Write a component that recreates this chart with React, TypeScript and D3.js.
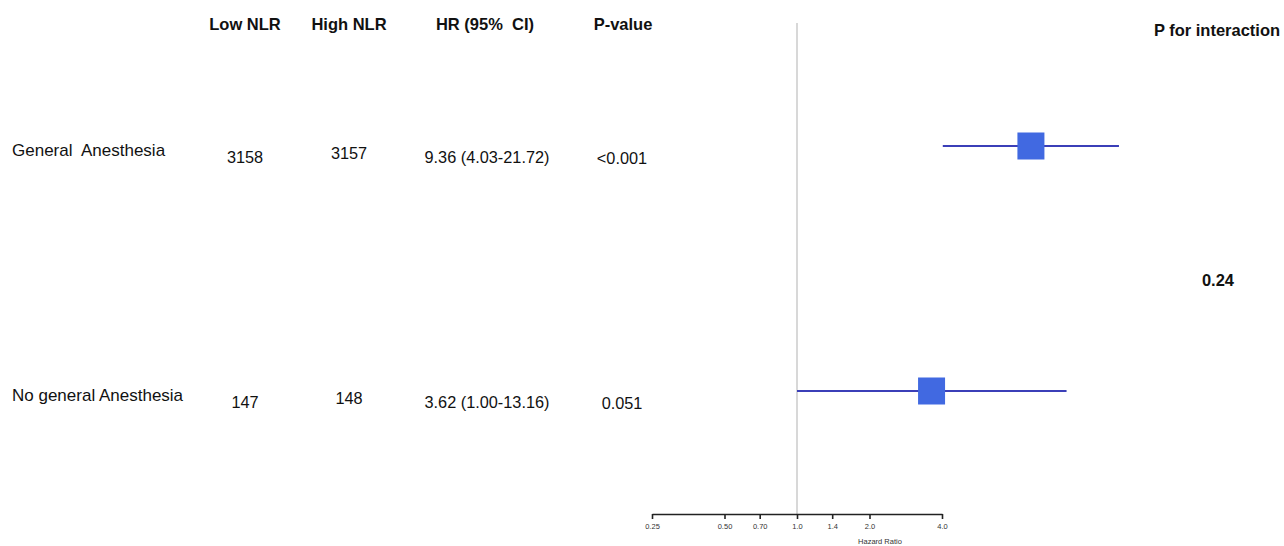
import React, { useEffect, useRef } from 'react';
import * as d3 from 'd3';

const subgroups = ['General  Anesthesia', 'No general Anesthesia'];
const lowNLR = ['3158', '147'];
const highNLR = ['3157', '148'];
const hrText = ['9.36 (4.03-21.72)', '3.62 (1.00-13.16)'];
const pValues = ['<0.001', '0.051'];
const hr = [9.36, 3.62];
const lower = [4.03, 1.0];
const upper = [21.72, 13.16];
const tickValues = [0.25, 0.5, 0.7, 1.0, 1.4, 2.0, 4.0];
const tickLabels = ['0.25', '0.50', '0.70', '1.0', '1.4', '2.0', '4.0'];
const headers = ['Low NLR', 'High NLR', 'HR (95%  CI)', 'P-value'];
const pInteraction = '0.24';

const W = 1284;
const H = 546;

export default function App() {
  const ref = useRef<SVGSVGElement>(null);

  useEffect(() => {
    const svg = d3.select(ref.current);
    svg.selectAll('*').remove();
    const font = 'Liberation Sans, Arial, sans-serif';

    // log scale, 1.0 at 797
    const x = d3.scaleLog().base(2).domain([0.25, 4]).range([652, 942]);
    const rowY = d3.scalePoint<number>().domain([0, 1]).range([146, 391]);

    const bold = (tx: number, ty: number, str: string) =>
      svg.append('text').attr('x', tx).attr('y', ty)
        .attr('text-anchor', 'middle').attr('font-family', font)
        .attr('font-weight', 'bold').attr('font-size', 16.5)
        .style('white-space', 'pre').attr('fill', '#111').text(str);

    // column headers
    const headX = [245, 349, 485, 623];
    headers.forEach((h, i) => bold(headX[i], 30, h));
    bold(1217, 36, 'P for interaction');
    bold(1218, 286, pInteraction);

    // reference line
    svg.append('line').attr('x1', x(1)).attr('x2', x(1))
      .attr('y1', 23).attr('y2', 514)
      .attr('stroke', '#d4d4d4').attr('stroke-width', 1.8);

    subgroups.forEach((s, i) => {
      const y = rowY(i)!;
      const t = (tx: number, ty: number, str: string, anchor = 'middle', fs = 16.3) =>
        svg.append('text').attr('x', tx).attr('y', ty)
          .attr('text-anchor', anchor).attr('font-family', font)
          .attr('font-size', fs).attr('fill', '#111')
          .style('white-space', 'pre').text(str);
      t(12, y + 10, s, 'start', 17);
      t(245, y + 17, lowNLR[i]);
      t(349, y + 13, highNLR[i]);
      t(487, y + 17, hrText[i]);
      t(622, y + 18, pValues[i]);

      svg.append('line').attr('x1', x(lower[i])).attr('x2', x(upper[i]))
        .attr('y1', y).attr('y2', y)
        .attr('stroke', '#3b3fb8').attr('stroke-width', 2);
      const sz = 27;
      svg.append('rect').attr('x', x(hr[i]) - sz / 2).attr('y', y - sz / 2)
        .attr('width', sz).attr('height', sz).attr('fill', '#4169e1');
    });

    // axis
    const axis = d3.axisBottom(x).tickValues(tickValues)
      .tickFormat((d, i) => tickLabels[i]).tickSize(5).tickSizeOuter(0);
    const g = svg.append('g').attr('transform', 'translate(0,514)').call(axis);
    g.select('.domain').attr('stroke', '#222').attr('stroke-width', 1.6);
    g.selectAll('.tick line').attr('stroke', '#222').attr('stroke-width', 1.6);
    g.selectAll('.tick text').attr('font-family', font).attr('font-size', 7.5)
      .attr('fill', '#333').attr('dy', '0.9em');
    svg.append('text').attr('x', 880).attr('y', 544).attr('text-anchor', 'middle')
      .attr('font-family', font).attr('font-size', 7.5).attr('fill', '#333')
      .text('Hazard Ratio');
  }, []);

  return (
    <svg ref={ref} width={W} height={H}
      style={{ position: 'absolute', left: 0, top: 0, background: '#fff' }} />
  );
}
